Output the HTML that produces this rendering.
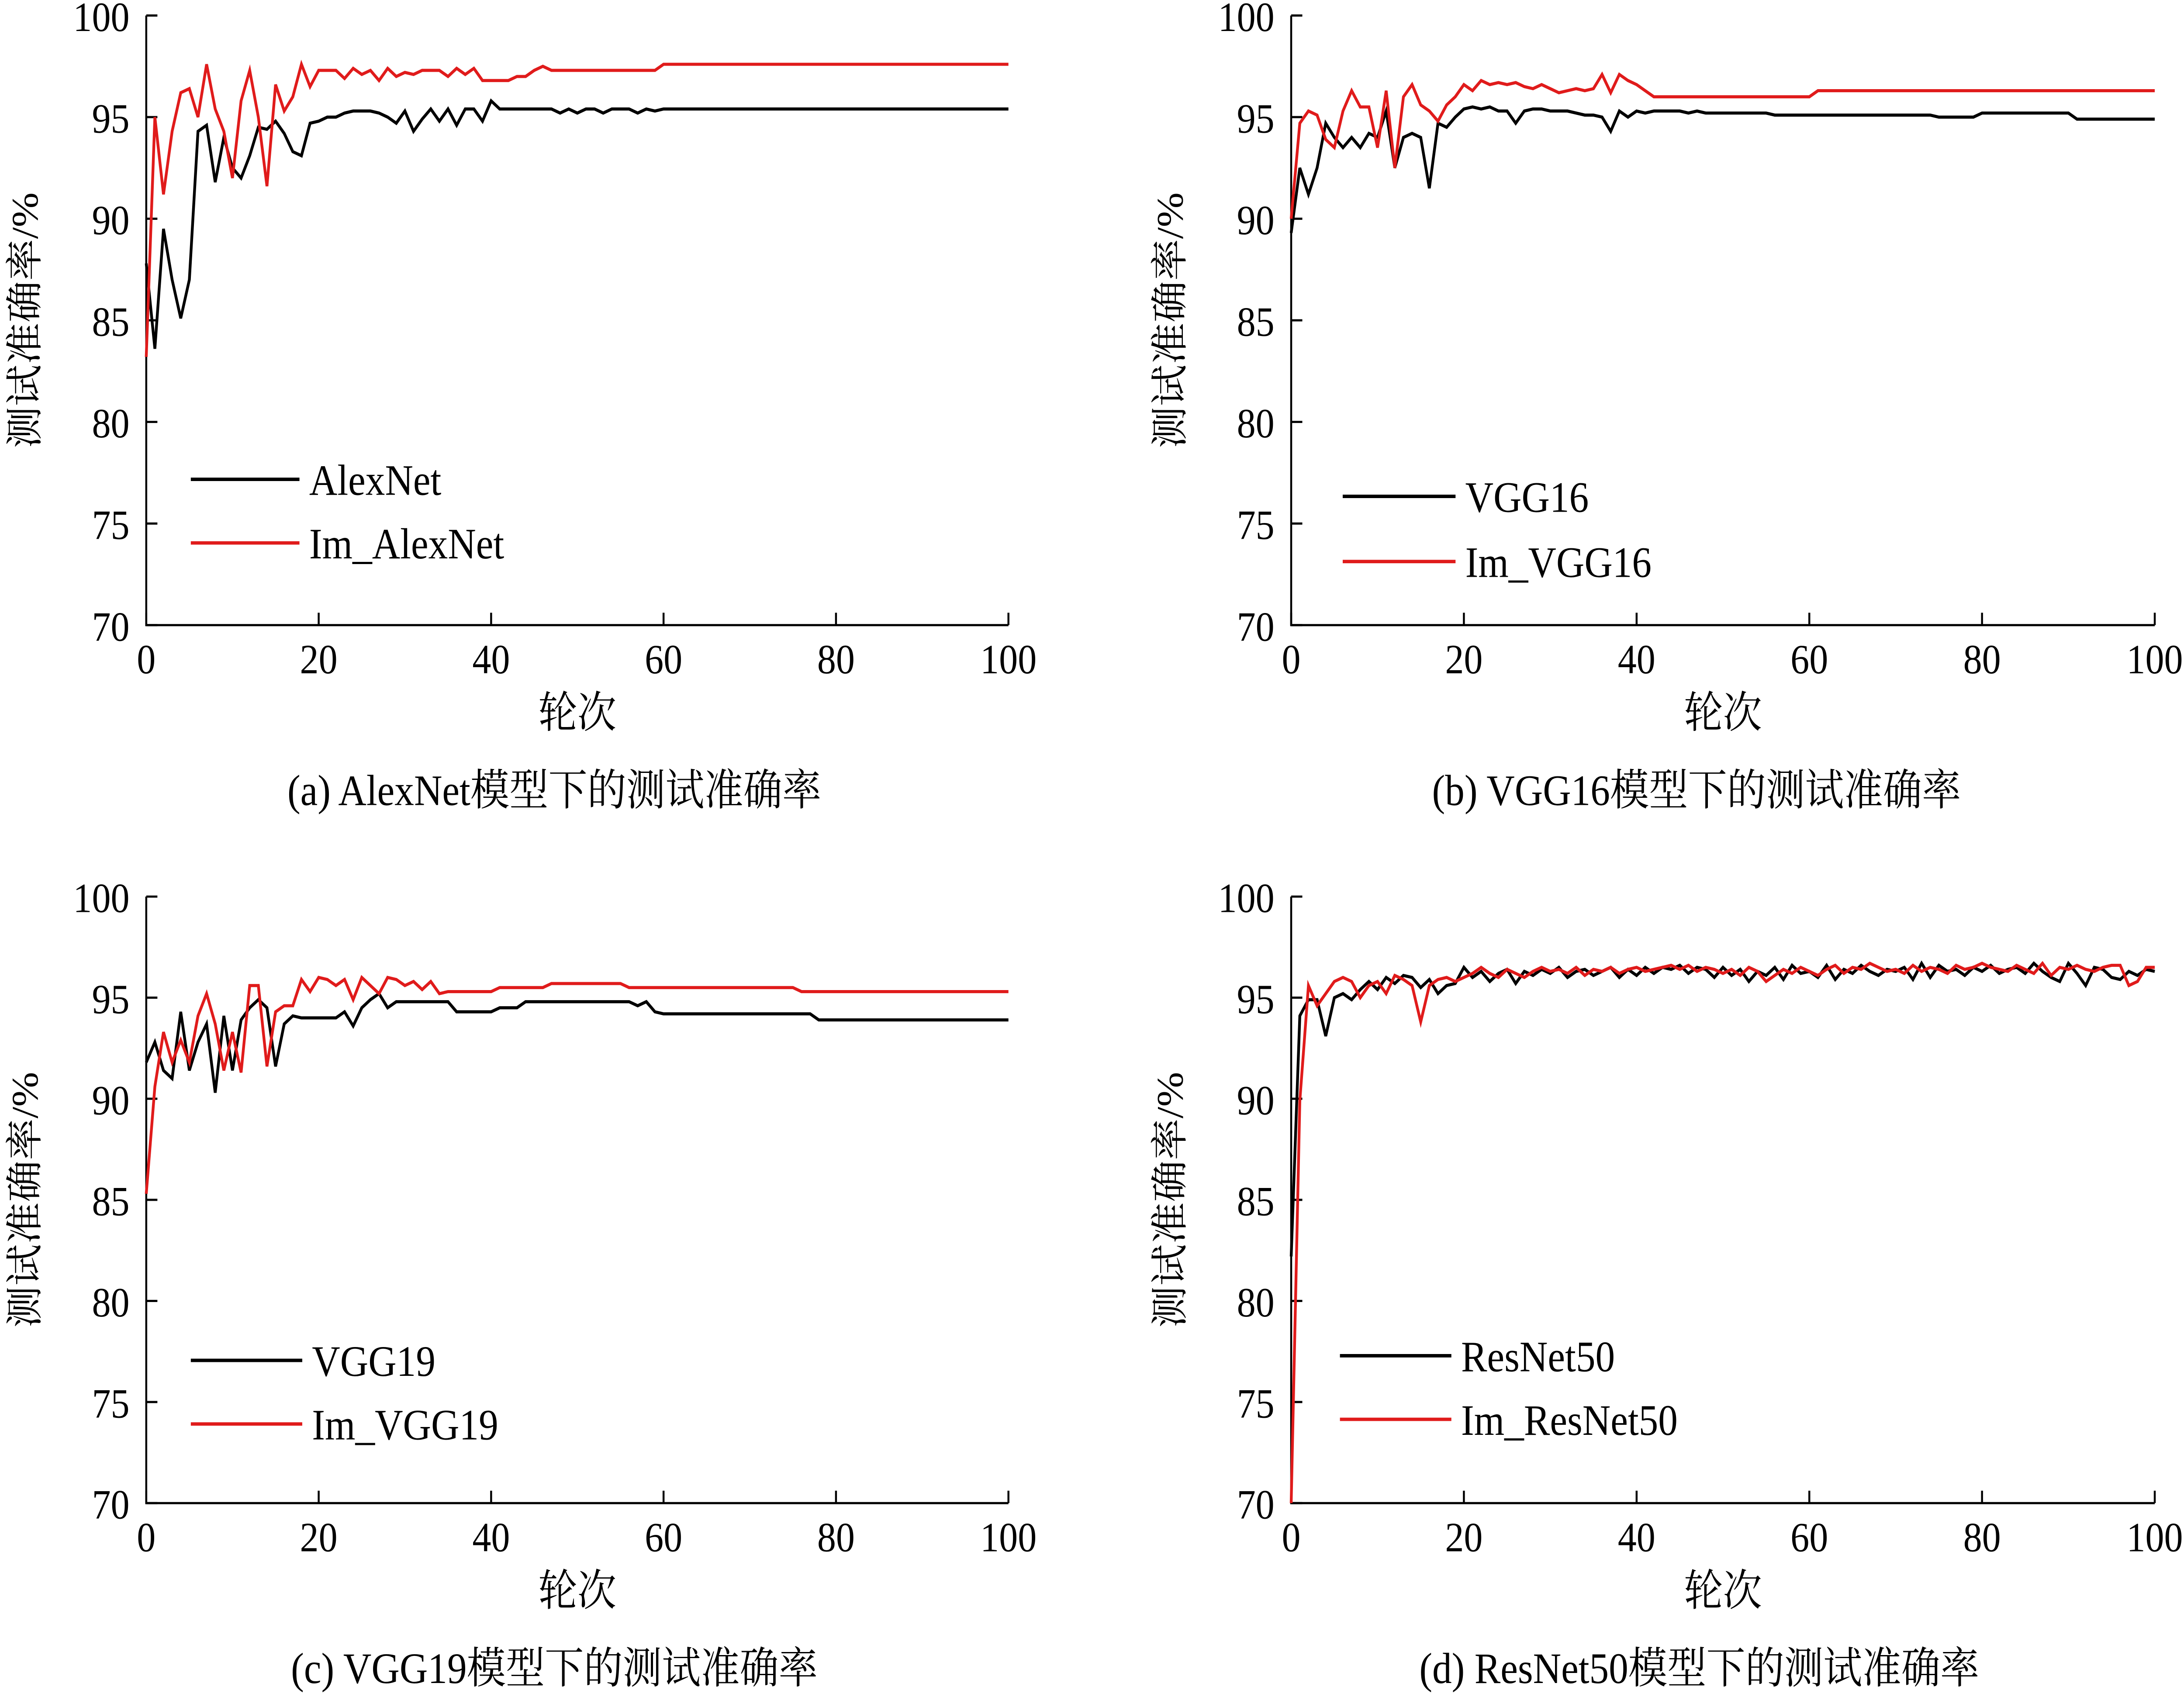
<!DOCTYPE html>
<html><head><meta charset="utf-8"><style>
html,body{margin:0;padding:0;background:#fff;width:100%;height:100%;overflow:hidden;}
svg{display:block;width:100vw;height:100vh;}
text{font-family:"Liberation Serif","Noto Serif CJK SC",serif;fill:#000;}
</style></head><body>
<svg id="root" viewBox="0 0 1568 1094" preserveAspectRatio="none" xmlns="http://www.w3.org/2000/svg"><g id="chart" font-family="Liberation Serif, Noto Serif CJK SC, serif"></g></svg>
<script>
const xTicks=[0,20,40,60,80,100];
const yTicks=[70,75,80,85,90,95,100];
function flat(v,n){const a=[];for(let i=0;i<n;i++)a.push(v);return a;}
const alexBlack=[87.8,83.6,89.5,87,85.1,87,94.3,94.6,91.8,94,92.5,92,93.1,94.5,94.4,94.8,94.2,93.3,93.1,94.7,94.8,95,95,95.2,95.3,95.3,95.3,95.2,95,94.7,95.3,94.3,94.9,95.4,94.8,95.4,94.6,95.4,95.4,94.8,95.8,95.4,95.4,95.4,95.4,95.4,95.4,95.4,95.2,95.4,95.2,95.4,95.4,95.2,95.4,95.4,95.4,95.2,95.4,95.3].concat(flat(95.4,41));
const alexRed=[83.2,95,91.2,94.3,96.2,96.4,95,97.6,95.4,94.3,92,95.8,97.3,95,91.6,96.6,95.3,96,97.6,96.5,97.3,97.3,97.3,96.9,97.4,97.1,97.3,96.8,97.4,97,97.2,97.1,97.3,97.3,97.3,97,97.4,97.1,97.4,96.8,96.8,96.8,96.8,97,97,97.3,97.5,97.3,97.3,97.3,97.3,97.3,97.3,97.3,97.3,97.3,97.3,97.3,97.3,97.3].concat(flat(97.6,41));
const vgg16Black=[89.3,92.5,91.2,92.5,94.7,94,93.5,94,93.5,94.2,94,95.3,92.5,94,94.2,94,91.5,94.7,94.5,95,95.4,95.5,95.4,95.5,95.3,95.3,94.7,95.3,95.4,95.4,95.3,95.3,95.3,95.2,95.1,95.1,95,94.3,95.3,95,95.3,95.2,95.3,95.3,95.3,95.3,95.2,95.3,95.2,95.2,95.2,95.2,95.2,95.2,95.2,95.2].concat(flat(95.1,19)).concat(flat(95,5)).concat(flat(95.2,11)).concat(flat(94.9,10));
const vgg16Red=[90,94.7,95.3,95.1,93.9,93.5,95.3,96.3,95.5,95.5,93.5,96.3,92.5,96,96.6,95.6,95.3,94.8,95.6,96,96.6,96.3,96.8,96.6,96.7,96.6,96.7,96.5,96.4,96.6,96.4,96.2,96.3,96.4,96.3,96.4,97.1,96.2,97.1,96.8,96.6,96.3,96,96].concat(flat(96,17)).concat(flat(96.3,40));
const vgg19Black=[91.8,92.8,91.4,91,94.3,91.4,92.8,93.7,90.3,94.1,91.4,93.9,94.5,94.9,94.5,91.6,93.7,94.1,94,94,94,94,94,94.3,93.6,94.5,94.9,95.2,94.5,94.8,94.8,94.8,94.8,94.8,94.8,94.8,94.3,94.3,94.3,94.3,94.3,94.5,94.5,94.5].concat(flat(94.8,13)).concat([94.6,94.8,94.3]).concat(flat(94.2,18)).concat(flat(93.9,23));
const vgg19Red=[85.3,90.6,93.3,91.8,92.9,91.8,94.1,95.2,93.7,91.4,93.3,91.3,95.6,95.6,91.6,94.3,94.6,94.6,95.9,95.3,96,95.9,95.6,95.9,94.9,96,95.6,95.2,96,95.9,95.6,95.8,95.4,95.8,95.2,95.3,95.3,95.3,95.3,95.3,95.3,95.5,95.5,95.5,95.5,95.5,95.5,95.7,95.7,95.7,95.7,95.7,95.7,95.7,95.7,95.7,95.5,95.5,95.5,95.5].concat(flat(95.5,16)).concat(flat(95.3,25));
const resBlack=[82.2,94.1,94.9,94.9,93.1,95,95.2,94.9,95.4,95.8,95.4,96,95.7,96.1,96,95.5,95.9,95.2,95.6,95.7,96.5,96,96.3,95.8,96.2,96.4,95.7,96.3,96.1,96.4,96.2,96.5,96,96.3,96.4,96.1,96.3,96.5,96,96.4,96.1,96.5,96.2,96.5,96.4,96.6,96.2,96.5,96.4,96,96.5,96.1,96.4,95.8,96.3,96.1,96.5,95.9,96.6,96.2,96.3,96,96.6,95.9,96.4,96.2,96.6,96.3,96.1,96.4,96.3,96.5,95.9,96.7,96,96.6,96.3,96.4,96.1,96.5,96.3,96.6,96.2,96.4,96.5,96.2,96.7,96.3,96,95.8,96.7,96.2,95.6,96.5,96.4,96,95.9,96.3,96.1,96.4,96.3];
const resRed=[70,89.9,95.6,94.6,95.2,95.8,96,95.8,95,95.6,95.8,95.2,96.1,95.9,95.6,93.8,95.6,95.9,96,95.8,96,96.2,96.5,96.2,96,96.4,96.2,96,96.3,96.5,96.3,96.4,96.2,96.5,96.1,96.4,96.3,96.5,96.2,96.4,96.5,96.3,96.4,96.5,96.6,96.4,96.6,96.3,96.5,96.4,96.2,96.4,96.1,96.5,96.3,95.8,96.1,96.4,96.2,96.5,96.3,96.1,96.4,96.6,96.2,96.5,96.4,96.7,96.5,96.3,96.4,96.2,96.6,96.3,96.5,96.4,96.2,96.6,96.4,96.5,96.7,96.5,96.4,96.3,96.6,96.4,96.2,96.7,96.1,96.5,96.4,96.6,96.4,96.3,96.5,96.6,96.6,95.6,95.8,96.5,96.5];

const NS='http://www.w3.org/2000/svg';
const svg=document.getElementById('chart');
function mk(tag,attrs,parent){const e=document.createElementNS(NS,tag);for(const k in attrs)e.setAttribute(k,attrs[k]);(parent||svg).appendChild(e);return e;}

const panels=[
 {id:'a',x0:105,x1:724,y0:403,y1:10,blk:alexBlack,red:alexRed,names:['AlexNet','Im_AlexNet'],lx:137,lx2:215,ly:[309,350],caption:'(a)  AlexNet模型下的测试准确率',cx:398},
 {id:'b',x0:927,x1:1547,y0:403,y1:10,blk:vgg16Black,red:vgg16Red,names:['VGG16','Im_VGG16'],lx:964,lx2:1045,ly:[320,362],caption:'(b)  VGG16模型下的测试准确率',cx:1218},
 {id:'c',x0:105,x1:724,y0:969,y1:578,blk:vgg19Black,red:vgg19Red,names:['VGG19','Im_VGG19'],lx:137,lx2:217,ly:[877,918],caption:'(c)  VGG19模型下的测试准确率',cx:398},
 {id:'d',x0:927,x1:1547,y0:969,y1:578,blk:resBlack,red:resRed,names:['ResNet50','Im_ResNet50'],lx:962,lx2:1042,ly:[874,915],caption:'(d)  ResNet50模型下的测试准确率',cx:1220}
];
const FF='Liberation Serif, Noto Serif CJK SC, serif';

panels.forEach(p=>{
  const g=mk('g',{});
  
  
  const sx=v=>p.x0+(v-0)/100*(p.x1-p.x0);
  const sy=v=>p.y0-(v-70)/30*(p.y0-p.y1);
  const ax=mk('path',{d:`M${p.x0},${p.y1}V${p.y0}H${p.x1}`,fill:'none',stroke:'#000','stroke-width':1.4},g);
  
  
  yTicks.forEach(t=>{
    mk('line',{x1:p.x0,x2:p.x0+8,y1:sy(t),y2:sy(t),stroke:'#000','stroke-width':1.4},g);
    const tx=mk('text',{x:p.x0-12,y:sy(t)+10,'text-anchor':'end','font-size':27,'font-family':FF},g);
    tx.textContent=t;
    
    
  });
  xTicks.forEach(t=>{
    mk('line',{x1:sx(t),x2:sx(t),y1:p.y0,y2:p.y0-8,stroke:'#000','stroke-width':1.4},g);
    const tx=mk('text',{x:sx(t),y:p.y0+31,'text-anchor':'middle','font-size':27,'font-family':FF},g);
    tx.textContent=t;
    
    
  });
  const yl=mk('text',{transform:`translate(${p.x0-78},${(p.y0+p.y1)/2}) rotate(-90)`,'text-anchor':'middle','font-size':27,'font-family':FF},g);
  yl.textContent='测试准确率/%';
  
  
  const xl=mk('text',{x:(p.x0+p.x1)/2,y:p.y0+66,'text-anchor':'middle','font-size':28,'font-family':FF},g);
  xl.textContent='轮次';
  
  
  const cap=mk('text',{x:p.cx,y:p.y0+116,'text-anchor':'middle','font-size':28,'font-family':FF},g);
  cap.textContent=p.caption;
  
  
  [[p.blk,'#000'],[p.red,'#e01b1b']].forEach(([arr,c],k)=>{
    const d=arr.map((v,i)=>(i?'L':'M')+sx(i).toFixed(2)+','+sy(v).toFixed(2)).join('');
    const ln=mk('path',{d,fill:'none',stroke:c,'stroke-width':2,'stroke-linejoin':'miter'},g);
    
    
    const le=mk('line',{x1:p.lx,x2:p.lx2,y1:p.ly[k],y2:p.ly[k],stroke:c,'stroke-width':2.2},g);
    
    
    const lt=mk('text',{x:p.lx2+7,y:p.ly[k]+10,'font-size':28,'font-family':FF},g);
    lt.textContent=p.names[k];
    
    
  });
});
</script>
</body></html>
